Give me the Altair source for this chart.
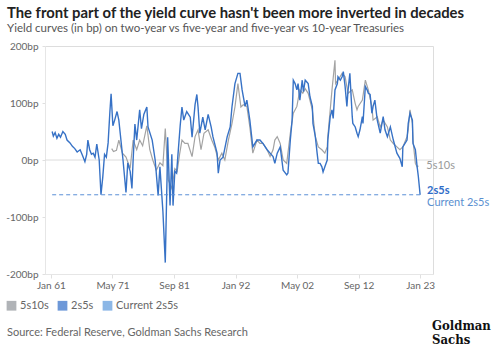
import altair as alt
import pandas as pd

# ---- data ----
series_names = ["5s10s", "2s5s", "Current 2s5s"]
series_colors = ["#8f9399", "#2f6cc8", "#5b98dc"]

s2s5_year = [1961.2, 1961.4, 1961.7, 1962.0, 1962.3, 1962.6, 1963.0, 1963.4, 1963.7, 1964.2,
             1964.6, 1965.0, 1965.4, 1965.9, 1966.3, 1966.7, 1967.0, 1967.2, 1967.5, 1967.8,
             1968.1, 1968.4, 1968.7, 1969.1, 1969.4, 1969.7, 1970.0, 1970.3, 1970.6, 1970.9,
             1971.1, 1971.4, 1971.7, 1972.1, 1972.4, 1972.6, 1973.1, 1973.6, 1973.9, 1974.3,
             1974.6, 1974.8, 1975.1, 1975.4, 1975.9, 1976.2, 1976.6, 1977.1, 1977.3, 1978.0,
             1978.5, 1979.0, 1979.3, 1979.8, 1980.2, 1980.5, 1980.6, 1980.8, 1981.0, 1981.3,
             1981.5, 1981.8, 1982.1, 1982.3, 1982.7, 1983.0, 1983.3, 1983.8, 1984.4, 1984.7,
             1985.2, 1985.5, 1985.7, 1986.0, 1986.5, 1986.9, 1987.4, 1987.9, 1988.2, 1988.9,
             1989.1, 1989.4, 1989.9, 1990.6, 1991.1, 1991.4, 1991.9, 1992.4, 1992.75, 1993.1,
             1993.6, 1993.9, 1994.4, 1994.9, 1995.6, 1996.1, 1996.6, 1997.3, 1997.8, 1998.3,
             1998.6, 1999.0, 1999.5, 2000.0, 2000.6, 2000.8, 2001.2, 2001.5, 2001.7, 2002.0,
             2002.3, 2002.5, 2002.8, 2003.2, 2003.4, 2003.7, 2004.2, 2004.5, 2004.9, 2005.0,
             2005.4, 2005.7, 2005.9, 2006.2, 2006.5, 2006.7, 2007.0, 2007.4, 2007.5, 2007.9,
             2008.2, 2008.4, 2008.7, 2009.1, 2009.2, 2009.6, 2009.9, 2010.1, 2010.4, 2010.7,
             2010.9, 2011.2, 2011.6, 2011.7, 2012.1, 2012.4, 2012.6, 2012.9, 2013.3, 2013.4,
             2013.8, 2014.1, 2014.3, 2014.6, 2014.9, 2015.1, 2015.4, 2015.8, 2016.3, 2016.8,
             2017.1, 2017.5, 2018.0, 2018.5, 2019.1, 2019.6, 2020.0, 2020.1, 2020.8, 2021.0,
             2021.3, 2021.7, 2021.8, 2022.2, 2022.5, 2022.7, 2023.0]
s2s5_bp = [50, 42, 48, 38, 45, 40, 50, 45, 35, 30,
           24, 20, 14, 18, 8, -3, 10, 35, 18, 10,
           12, 5, 28, 0, -61, -30, 10, 5, 30, 85,
           116, 60, 70, 85, 70, 50, 0, -57, -5, -20,
           -50, 0, 63, 35, 88, 55, 80, 93, 58, 35,
           0, -62, -12, -90, -180, -30, 40, -20, -80, 10,
           -80, -20, -23, 5, 60, 93, 70, 85, 75, 40,
           97, 115, 93, 47, 75, 53, 80, 58, 41, 12,
           -23, 0, 5, 41, 58, 93, 134, 152, 152, 123,
           94, 105, 70, 23, 35, 35, 29, 18, 12, 6,
           -6, 12, 23, -18, -26, -23, 35, 70, 140, 134,
           123, 134, 105, 140, 120, 140, 134, 111, 94, 64,
           41, 12, -6, -6, -12, -21, -12, 0, 35, 76,
           88, 73, 123, 134, 146, 140, 146, 155, 129, 94,
           123, 152, 76, 64, 58, 47, 41, 53, 76, 64,
           129, 123, 117, 115, 82, 94, 105, 70, 47, 76,
           53, 41, 58, 35, 12, 3, -12, 23, 35, 64,
           82, 70, 29, 18, -12, -29, -61]

s5s10_year = [1971.2, 1971.5, 1972.0, 1972.4, 1973.0, 1973.6, 1974.3, 1974.8, 1975.4, 1975.9,
              1976.4, 1977.1, 1977.6, 1978.1, 1978.7, 1979.3, 1979.8, 1980.2, 1980.7, 1981.3,
              1981.8, 1982.2, 1982.6, 1983.0, 1983.5, 1984.0, 1984.7, 1985.2, 1985.7, 1986.2,
              1986.7, 1987.4, 1988.0, 1988.5, 1989.1, 1989.7, 1990.2, 1990.8, 1991.4, 1991.9,
              1992.4, 1992.9, 1993.3, 1993.9, 1994.4, 1994.9, 1995.6, 1996.1, 1996.6, 1997.3,
              1997.8, 1998.3, 1998.6, 1999.0, 1999.5, 2000.0, 2000.6, 2000.8, 2001.2, 2001.7,
              2002.3, 2002.8, 2003.3, 2003.7, 2004.2, 2004.9, 2005.4, 2005.9, 2006.5, 2007.0,
              2007.4, 2007.5, 2008.2, 2008.7, 2008.8, 2009.2, 2009.9, 2010.4, 2010.9, 2011.6,
              2012.1, 2012.4, 2012.6, 2013.3, 2013.8, 2014.3, 2014.9, 2015.1, 2015.8, 2016.3,
              2016.8, 2017.5, 2018.0, 2018.5, 2019.1, 2019.6, 2020.1, 2020.8, 2021.0, 2021.3,
              2021.7, 2021.8, 2022.2, 2022.5, 2022.7]
s5s10_bp = [20, 15, 17, 35, 12, 5, -15, 35, 18, 35,
            25, 60, 18, 0, -18, -5, -10, 55, -35, -50,
            -15, -20, 10, 35, 29, 29, 6, 41, 53, 18,
            47, 53, 35, 23, 0, 12, 0, 35, 64, 93,
            134, 93, 97, 94, 58, 12, 35, 29, 29, 18,
            6, 18, 35, 41, 29, 0, -6, 12, 47, 82,
            94, 123, 117, 125, 117, 88, 41, 23, 18, 12,
            23, 41, 123, 175, 134, 140, 152, 146, 117, 123,
            99, 88, 94, 105, 140, 123, 94, 70, 76, 58,
            70, 58, 35, 29, 23, 18, 23, 41, 53, 88,
            64, 35, -6, -12, -10]

current_2s5s = -61
y_ticks = [-200, -150, -100, -50, 0, 50, 100, 150, 200]
x_tick_dates = [(1961, 1), (1971, 5), (1981, 9), (1992, 1), (2002, 5), (2012, 9), (2023, 1)]


def to_date(y):
    yi = int(y)
    return pd.Timestamp(yi, 1, 1) + pd.Timedelta(days=(y - yi) * 365.25)


gray_df = pd.DataFrame({"date": [to_date(v) for v in s5s10_year], "bp": s5s10_bp})
blue_df = pd.DataFrame({"date": [to_date(v) for v in s2s5_year], "bp": s2s5_bp})
current = pd.DataFrame({"start": [to_date(s2s5_year[0])], "end": [to_date(s2s5_year[-1])],
                        "bp": [current_2s5s]})
ends = pd.DataFrame({
    "date": [to_date(s5s10_year[-1]), to_date(s2s5_year[-1]), to_date(s2s5_year[-1])],
    "bp": [s5s10_bp[-1], current_2s5s, current_2s5s],
    "series": series_names,
})
legend_df = pd.DataFrame({"series": series_names})
zero_df = pd.DataFrame({"bp": [0]})

FONT = "Lato"
W, H = 388, 228

color_scale = alt.Scale(domain=series_names, range=series_colors)
x_scale = alt.Scale(domain=[alt.DateTime(year=1960, month=1, date=1),
                            alt.DateTime(year=2025, month=3, date=1)])
y_scale = alt.Scale(domain=[-200, 200], nice=False)

x_axis = alt.Axis(values=[alt.DateTime(year=a, month=b, date=1) for a, b in x_tick_dates],
                  format="%b %y", title=None, grid=False, domainColor="#e6e6e6",
                  tickColor="#e0e0e0", tickSize=4, labelPadding=2, labelFontSize=10,
                  labelColor="#666666", labelFont=FONT)
y_axis = alt.Axis(values=y_ticks, labelExpr="datum.value + 'bp'", title=None, grid=False,
                  domainColor="#e6e6e6", tickColor="#e0e0e0", tickSize=3, labelPadding=4,
                  labelFontSize=10, labelColor="#666666", labelFont=FONT)

zero = alt.Chart(zero_df).mark_rule(color="#dcdcdc", strokeWidth=1).encode(
    y=alt.Y("bp:Q", scale=y_scale, axis=y_axis))

gray_line = alt.Chart(gray_df).mark_line(strokeWidth=1.2, color="#a3a3a3").encode(
    x=alt.X("date:T", scale=x_scale, axis=x_axis),
    y=alt.Y("bp:Q", scale=y_scale),
)
blue_line = alt.Chart(blue_df).mark_line(strokeWidth=1.4, color="#3772c6").encode(
    x=alt.X("date:T", scale=x_scale),
    y=alt.Y("bp:Q", scale=y_scale),
)

dashed = alt.Chart(current).mark_rule(strokeDash=[4, 3], strokeWidth=1, color="#5b8fd6").encode(
    x=alt.X("start:T", scale=x_scale), x2="end:T", y=alt.Y("bp:Q", scale=y_scale))

legend_layer = alt.Chart(legend_df).mark_square(size=0).encode(
    fill=alt.Fill("series:N", scale=color_scale, sort=series_names,
                  legend=alt.Legend(orient="none", legendX=-39, legendY=254, direction="horizontal",
                                    title=None, symbolType="square", symbolSize=95,
                                    symbolStrokeWidth=0, labelFontSize=11, labelColor="#666666",
                                    labelFont=FONT, columnPadding=8, labelOffset=3)),
).transform_filter("datum.series == 'none'")

end_gray = alt.Chart(ends[ends.series == "5s10s"]).mark_text(
    align="left", dx=8, dy=0, fontSize=11, font=FONT, color="#9a9a9a").encode(
    x=alt.X("date:T", scale=x_scale), y=alt.Y("bp:Q", scale=y_scale), text="series:N")
end_blue = alt.Chart(ends[ends.series == "2s5s"]).mark_text(
    align="left", dx=7, dy=-4, fontSize=11, font=FONT, fontWeight="bold", color="#2f6cc8").encode(
    x=alt.X("date:T", scale=x_scale), y=alt.Y("bp:Q", scale=y_scale), text="series:N")
end_cur = alt.Chart(ends[ends.series == "Current 2s5s"]).mark_text(
    align="left", dx=7, dy=8, fontSize=11, font=FONT, color="#5a8fd0").encode(
    x=alt.X("date:T", scale=x_scale), y=alt.Y("bp:Q", scale=y_scale), text="series:N")

source = alt.Chart(pd.DataFrame({"t": ["Source: Federal Reserve, Goldman Sachs Research"]})).mark_text(
    align="left", baseline="middle", fontSize=11, font=FONT, color="#666666").encode(
    x=alt.value(-38), y=alt.value(287), text="t:N")
logo1 = alt.Chart(pd.DataFrame({"t": ["Goldman"]})).mark_text(
    align="left", baseline="middle", fontSize=13, font="DejaVu Serif Condensed", fontWeight="bold",
    color="#111111").encode(x=alt.value(387), y=alt.value(280), text="t:N")
logo2 = alt.Chart(pd.DataFrame({"t": ["Sachs"]})).mark_text(
    align="left", baseline="middle", fontSize=13, font="DejaVu Serif Condensed", fontWeight="bold",
    color="#111111").encode(x=alt.value(387), y=alt.value(294), text="t:N")

chart = alt.layer(
    zero, gray_line, blue_line, dashed, legend_layer, end_gray, end_blue, end_cur, source, logo1, logo2
).properties(
    width=W, height=H,
    title=alt.TitleParams(
        text="The front part of the yield curve hasn't been more inverted in decades",
        subtitle="Yield curves (in bp) on two-year vs five-year and five-year vs 10-year Treasuries",
        anchor="start", frame="group", dx=-38, offset=7, font=FONT, fontSize=14.8, fontWeight="bold",
        color="#222222", subtitleFont=FONT, subtitleFontSize=11.5, subtitleColor="#555555",
        subtitlePadding=2),
    autosize=alt.AutoSizeParams(type="none"),
    padding={"left": 45, "top": 46, "right": 67, "bottom": 82},
).configure_view(stroke=None).configure(background="white")

chart.save("out.html", embed_options={"renderer": "svg", "actions": False})
